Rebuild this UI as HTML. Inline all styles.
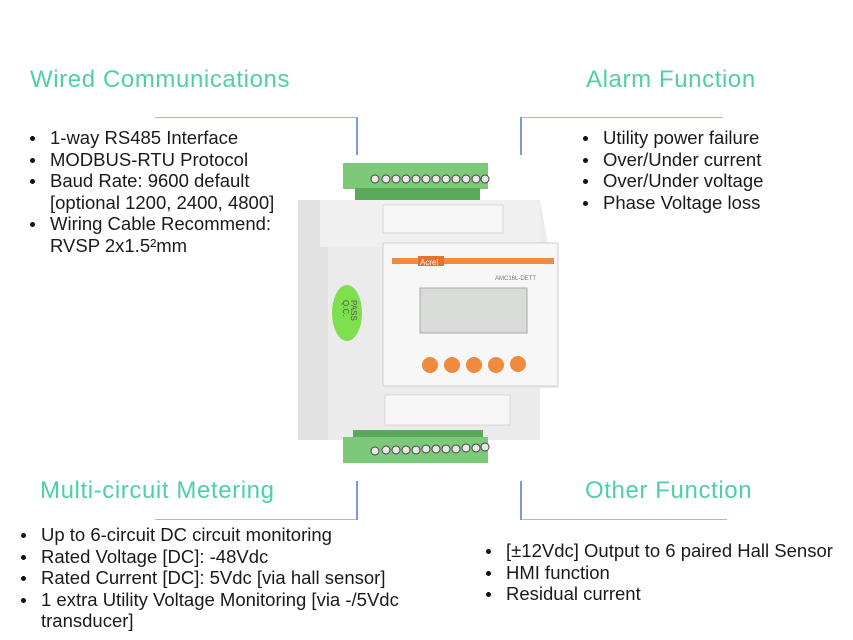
<!DOCTYPE html>
<html><head><meta charset="utf-8"><style>
body{margin:0;width:853px;height:640px;background:#fff;position:relative;overflow:hidden;font-family:"Liberation Sans",sans-serif}
.t{position:absolute;color:#4fcfa9;font-size:24px;letter-spacing:0.6px;white-space:nowrap;line-height:30px}
.l{position:absolute;font-size:18.5px;line-height:21.5px;color:#1a1a1a;white-space:nowrap}
.l div{position:relative}
.l div.b::before{content:"";position:absolute;width:5px;height:5px;border-radius:50%;background:#111;top:9px;left:-20px}
.hl{position:absolute;height:1px;background:#a9b6e0}
.vl{position:absolute;width:2px;background:#7e98dc}
</style></head><body>
<div class="t" style="left:30px;top:65px">Wired Communications</div>
<div class="t" style="left:586px;top:65px">Alarm Function</div>
<div class="t" style="left:40px;top:476px">Multi-circuit Metering</div>
<div class="t" style="left:585px;top:476px">Other Function</div>

<div class="hl" style="left:155px;top:117px;width:202px"></div>
<div class="vl" style="left:356px;top:117px;height:38px"></div>
<div class="hl" style="left:520px;top:117px;width:203px"></div>
<div class="vl" style="left:520px;top:117px;height:38px"></div>
<div class="hl" style="left:155px;top:519px;width:202px"></div>
<div class="vl" style="left:356px;top:481px;height:39px"></div>
<div class="hl" style="left:520px;top:519px;width:207px"></div>
<div class="vl" style="left:520px;top:481px;height:39px"></div>

<div class="l" style="left:50px;top:127px">
<div class="b">1-way RS485 Interface</div>
<div class="b">MODBUS-RTU Protocol</div>
<div class="b">Baud Rate: 9600 default</div>
<div>[optional 1200, 2400, 4800]</div>
<div class="b">Wiring Cable Recommend:</div>
<div>RVSP 2x1.5²mm</div>
</div>
<div class="l" style="left:603px;top:127px">
<div class="b">Utility power failure</div>
<div class="b">Over/Under current</div>
<div class="b">Over/Under voltage</div>
<div class="b">Phase Voltage loss</div>
</div>
<div class="l" style="left:41px;top:524px">
<div class="b">Up to 6-circuit DC circuit monitoring</div>
<div class="b">Rated Voltage [DC]: -48Vdc</div>
<div class="b">Rated Current [DC]: 5Vdc [via hall sensor]</div>
<div class="b">1 extra Utility Voltage Monitoring [via -/5Vdc</div>
<div>transducer]</div>
</div>
<div class="l" style="left:506px;top:540px">
<div class="b">[±12Vdc] Output to 6 paired Hall Sensor</div>
<div class="b">HMI function</div>
<div class="b">Residual current</div>
</div>

<svg style="position:absolute;left:0;top:0" width="853" height="640">
<rect x="343" y="163" width="145" height="26" fill="#7cc97a"/>
<rect x="355" y="188" width="125" height="12" fill="#5aa85a"/>
<g fill="#e8e8e8" stroke="#444" stroke-width="1">
<circle cx="375" cy="179" r="4"/><circle cx="386" cy="179" r="4"/><circle cx="396" cy="179" r="4"/><circle cx="406" cy="179" r="4"/><circle cx="416" cy="179" r="4"/><circle cx="426" cy="179" r="4"/><circle cx="436" cy="179" r="4"/><circle cx="446" cy="179" r="4"/><circle cx="456" cy="179" r="4"/><circle cx="466" cy="179" r="4"/><circle cx="476" cy="179" r="4"/><circle cx="485" cy="179" r="4"/>
</g>
<path d="M298 200 L540 200 L548 245 L558 245 L558 388 L540 388 L540 440 L330 440 L298 430 Z" fill="#ebebeb"/>
<rect x="298" y="200" width="30" height="240" fill="#e2e2e2"/>
<rect x="320" y="200" width="220" height="47" fill="#f0f0f0"/>
<rect x="383" y="205" width="120" height="28" fill="#f6f6f6" stroke="#bbb" stroke-width="0.5"/>
<rect x="383" y="243" width="175" height="143" fill="#f7f7f7" stroke="#ccc"/>
<rect x="392" y="258" width="162" height="6" fill="#f08a3c"/>
<rect x="418" y="256" width="26" height="10" fill="#e8702a"/>
<text x="420" y="265" font-size="8" fill="#fff" font-family="Liberation Sans">Acrel</text>
<text x="495" y="280" font-size="6" fill="#777" font-family="Liberation Sans">AMC16L-DETT</text>
<rect x="420" y="288" width="107" height="45" fill="#d8dbd8" stroke="#aaa"/>
<g fill="#f08a3c">
<circle cx="430" cy="365" r="8"/><circle cx="452" cy="365" r="8"/><circle cx="474" cy="365" r="8"/><circle cx="496" cy="365" r="8"/><circle cx="518" cy="364" r="8"/>
</g>
<ellipse cx="347" cy="313" rx="15" ry="28" fill="#7fe04e"/>
<text x="343" y="300" font-size="8" fill="#555" font-family="Liberation Sans" transform="rotate(90 343 300)">Q.C.</text>
<text x="351" y="300" font-size="8" fill="#555" font-family="Liberation Sans" transform="rotate(90 351 300)">PASS</text>
<rect x="385" y="395" width="125" height="30" fill="#f6f6f6" stroke="#bbb" stroke-width="0.5"/>
<rect x="353" y="430" width="130" height="8" fill="#5aa85a"/>
<rect x="343" y="437" width="145" height="26" fill="#7cc97a"/>
<g fill="#e8e8e8" stroke="#444" stroke-width="1">
<circle cx="375" cy="451" r="4"/><circle cx="386" cy="450" r="4"/><circle cx="396" cy="450" r="4"/><circle cx="406" cy="450" r="4"/><circle cx="416" cy="450" r="4"/><circle cx="426" cy="449" r="4"/><circle cx="436" cy="449" r="4"/><circle cx="446" cy="449" r="4"/><circle cx="456" cy="449" r="4"/><circle cx="466" cy="448" r="4"/><circle cx="476" cy="448" r="4"/><circle cx="485" cy="447" r="4"/>
</g>
</svg>
</body></html>
